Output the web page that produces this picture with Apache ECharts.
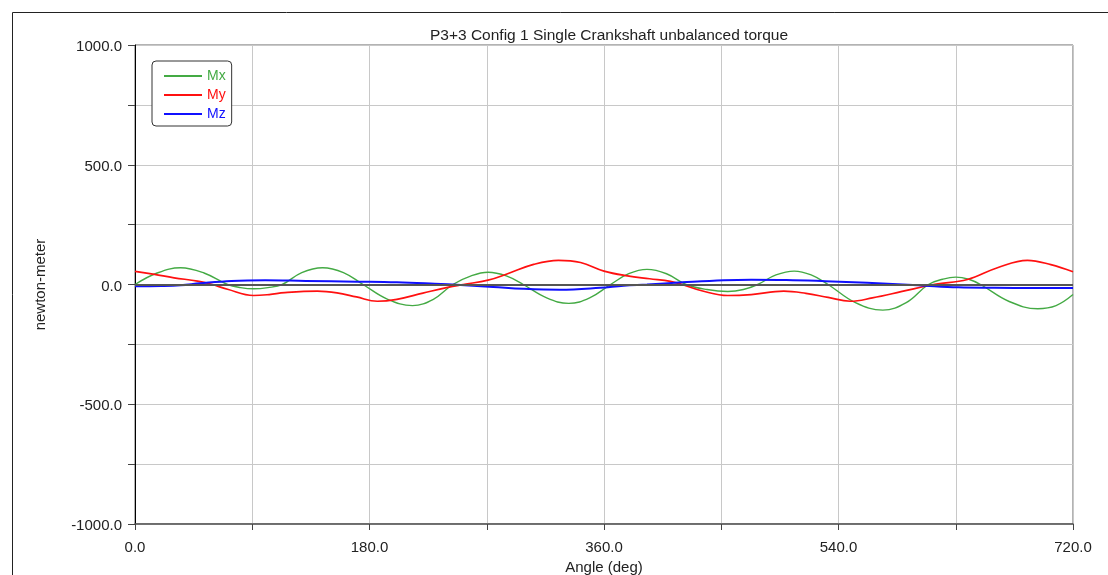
<!DOCTYPE html>
<html>
<head>
<meta charset="utf-8">
<script src="https://cdn.jsdelivr.net/npm/echarts@6/dist/echarts.min.js"></script>
<style>
  html, body { margin: 0; padding: 0; background: #fff; }
  #chart { width: 1108px; height: 575px; }
</style>
</head>
<body>
<div id="chart"></div>
<script>
// Crank angle (deg) and unbalanced torque components (N·m)
const mxAngles = [0, 17, 35, 53, 71, 81, 91, 102, 113, 128, 144, 160, 175, 194, 213, 229, 244, 258, 271, 285, 298, 316, 333, 349, 365, 379, 393, 408, 423, 439, 455, 467, 478, 492, 506, 519, 532, 553, 574, 592, 609, 620, 630, 640, 649, 671, 693, 707, 720];
const mxValues = [0, 48, 70, 48, 0, -13, -18, -13, 0, 50, 70, 50, 0, -62, -88, -62, 0, 36, 51, 36, 0, -56, -79, -56, 0, 45, 63, 45, 0, -21, -29, -21, 0, 40, 56, 40, 0, -76, -107, -76, 0, 22, 31, 22, 0, -71, -101, -88, -42];

const myAngles = [0, 15, 30, 48, 58, 71, 91, 103, 115, 140, 155, 170, 186, 201, 221, 240, 252, 271, 286, 306, 325, 342, 360, 378, 395, 411, 420, 435, 455, 473, 498, 515, 532, 549, 566, 588, 609, 615, 639, 662, 685, 703, 720];
const myValues = [55, 42, 28, 14, 2, -20, -46, -42, -34, -28, -35, -52, -70, -62, -36, -12, 0, 18, 45, 84, 101, 92, 56, 36, 24, 13, 0, -26, -46, -42, -28, -37, -54, -70, -56, -30, -4, 2, 21, 70, 101, 83, 53];

const mzAngles = [0, 20, 35, 50, 74, 100, 131, 170, 201, 230, 250, 275, 298, 326, 357, 375, 393, 420, 452, 473, 500, 530, 562, 601, 632, 660, 690, 720];
const mzValues = [-7, -6, -3, 5, 15, 18, 15, 12, 9, 3, -2, -10, -18, -22, -14, -5, 0, 9, 18, 20, 19, 14, 7, -3, -12, -14, -15, -15];

const xTicks = { min: 0, max: 720, step: 90, labelStep: 180 };
const yTicks = { min: -1000, max: 1000, step: 250, labelStep: 500 };

const pairs = (xs, ys) => xs.map((x, i) => [x, ys[i]]);

const FONT = '"Liberation Sans", Arial, sans-serif';
const C_MX = '#44aa44', C_MY = '#ff1010', C_MZ = '#1010ff';

const chart = echarts.init(document.getElementById('chart'), null, { renderer: 'canvas' });

chart.setOption({
  animation: false,
  backgroundColor: '#fff',
  graphic: [{
    type: 'rect',
    shape: { x: 12.5, y: 12.5, width: 1200, height: 700 },
    style: { fill: 'none', stroke: '#222', lineWidth: 1 },
    silent: true, z: -10
  }],
  title: {
    text: 'P3+3 Config 1 Single Crankshaft unbalanced torque',
    left: 604,
    textAlign: 'center',
    top: 23,
    textStyle: { fontFamily: FONT, fontSize: 15.5, fontWeight: 'normal', color: '#222' }
  },
  legend: {
    orient: 'vertical',
    left: 152,
    top: 61,
    padding: [8, 6, 5, 12],
    icon: 'rect',
    itemWidth: 38,
    itemHeight: 2,
    itemGap: 5,
    borderColor: '#333',
    borderWidth: 1,
    borderRadius: 4,
    backgroundColor: '#fff',
    textStyle: { fontFamily: FONT, fontSize: 14, lineHeight: 12 },
    data: [
      { name: 'Mx', textStyle: { color: C_MX } },
      { name: 'My', textStyle: { color: C_MY } },
      { name: 'Mz', textStyle: { color: C_MZ } }
    ]
  },
  grid: {
    left: 135, right: 35, top: 45, bottom: 51,
    containLabel: false,
    outerBoundsMode: 'none',
    show: true, borderColor: '#666', borderWidth: 1
  },
  xAxis: {
    type: 'value',
    min: xTicks.min, max: xTicks.max, interval: xTicks.step,
    name: 'Angle (deg)',
    nameLocation: 'middle',
    nameGap: 36,
    nameTextStyle: { fontFamily: FONT, fontSize: 15, color: '#222' },
    axisLine: { onZero: false, lineStyle: { color: '#555', width: 1.5 } },
    axisTick: { show: true, length: 6, lineStyle: { color: '#444' } },
    axisLabel: {
      margin: 16, fontFamily: FONT, fontSize: 15, color: '#222',
      formatter: v => (v % xTicks.labelStep === 0 ? v.toFixed(1) : '')
    },
    splitLine: { show: true, lineStyle: { color: '#c8c8c8', width: 1 } }
  },
  yAxis: {
    type: 'value',
    min: yTicks.min, max: yTicks.max, interval: yTicks.step,
    name: 'newton-meter',
    nameLocation: 'middle',
    nameGap: 87,
    nameTextStyle: { fontFamily: FONT, fontSize: 15, color: '#222' },
    axisLine: { show: true, lineStyle: { color: '#000', width: 1 } },
    axisTick: { show: true, length: 7, lineStyle: { color: '#444' } },
    axisLabel: {
      margin: 13, fontFamily: FONT, fontSize: 15, color: '#222',
      formatter: v => (v % yTicks.labelStep === 0 ? '{t|' + v.toFixed(1) + '}' : ''),
      rich: { t: { fontFamily: FONT, fontSize: 15, color: '#222', padding: [4, 0, 0, 0] } }
    },
    splitLine: { show: true, lineStyle: { color: '#c8c8c8', width: 1 } }
  },
  series: [
    {
      name: 'Mx', type: 'line', data: pairs(mxAngles, mxValues),
      smooth: 0.4, symbol: 'none', color: C_MX,
      lineStyle: { color: C_MX, width: 1.4 },
      markLine: {
        silent: true, symbol: 'none', label: { show: false },
        lineStyle: { color: '#555', width: 2, type: 'solid' },
        data: [{ yAxis: 0 }]
      }
    },
    {
      name: 'My', type: 'line', data: pairs(myAngles, myValues),
      smooth: 0.4, symbol: 'none', color: C_MY,
      lineStyle: { color: C_MY, width: 1.7 }
    },
    {
      name: 'Mz', type: 'line', data: pairs(mzAngles, mzValues),
      smooth: 0.4, symbol: 'none', color: C_MZ,
      lineStyle: { color: C_MZ, width: 2 }
    }
  ]
});
</script>
</body>
</html>
